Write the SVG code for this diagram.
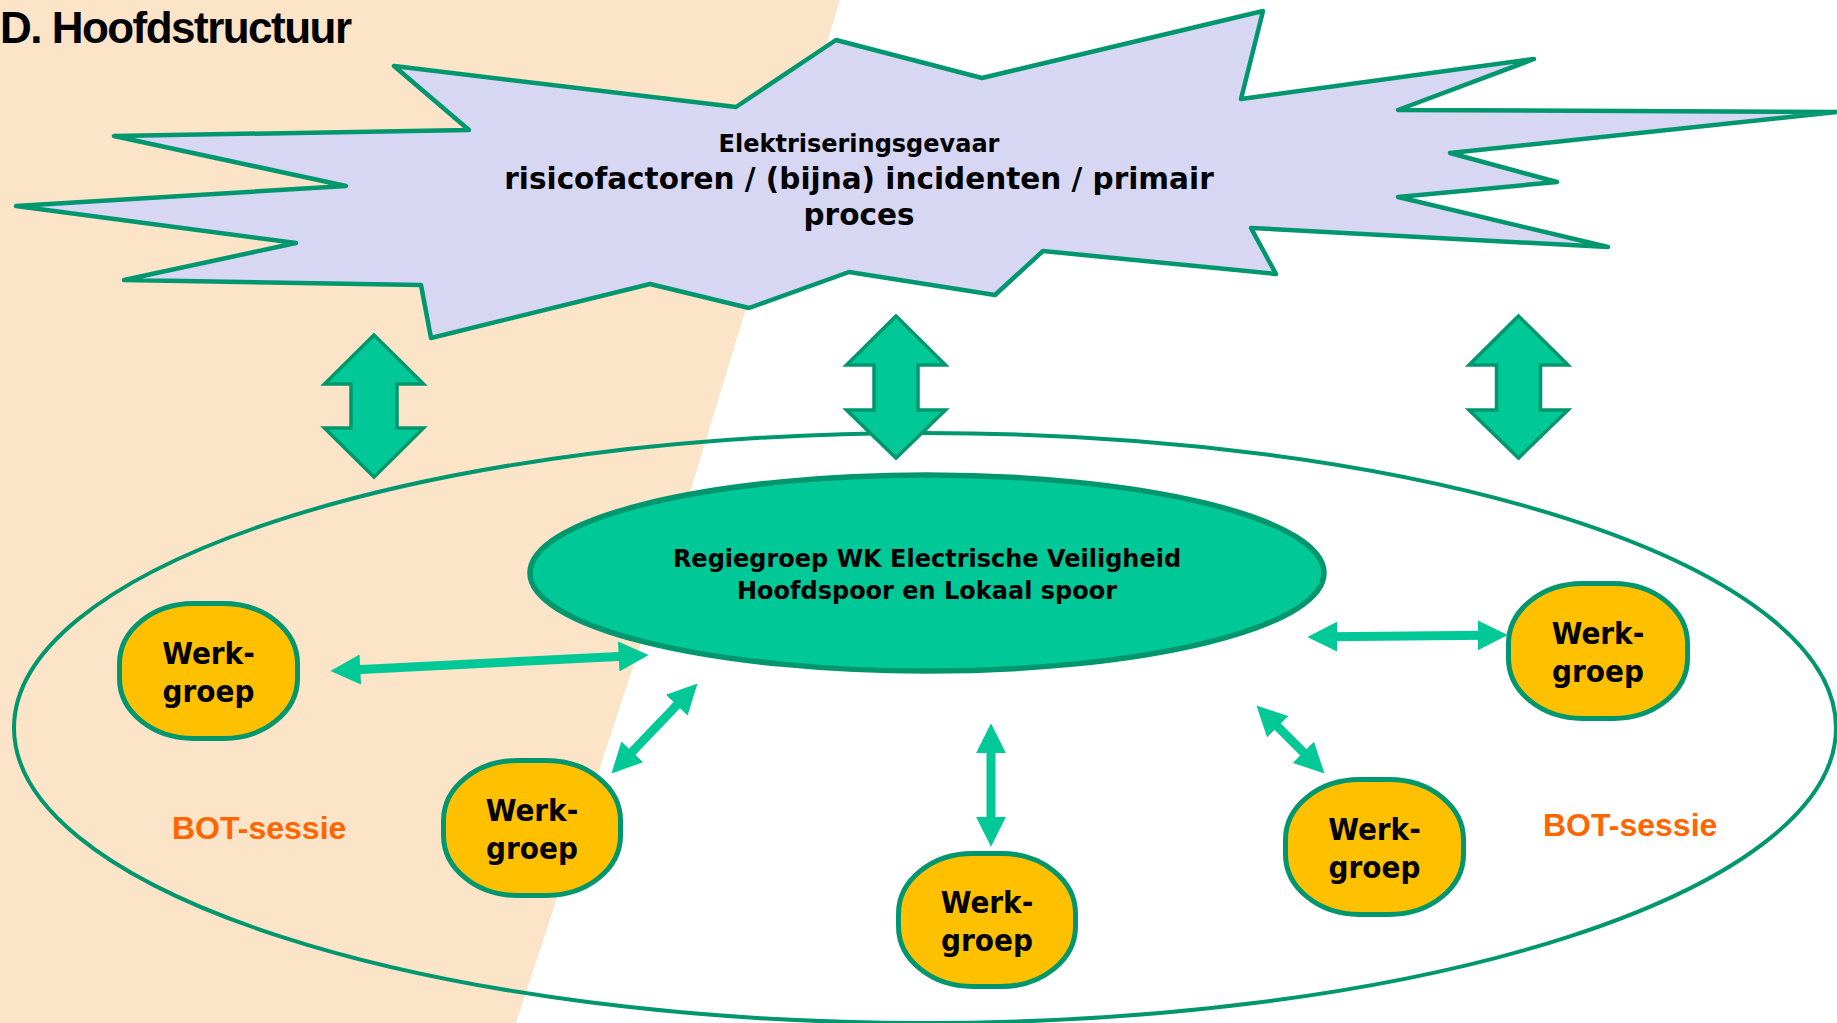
<svg xmlns="http://www.w3.org/2000/svg" width="1837" height="1023" viewBox="0 0 1837 1023">
<defs>
<style>
.wg{fill:#FFC000;stroke:#00966E;stroke-width:5}
.wt{font-family:"DejaVu Sans Condensed","DejaVu Sans",sans-serif;font-stretch:condensed;font-weight:bold;font-size:31px;fill:#000;text-anchor:middle}
.st{font-family:"DejaVu Sans",Verdana,sans-serif;font-weight:bold;fill:#000;text-anchor:middle}
.bot{font-family:"Liberation Sans",Arial,sans-serif;font-weight:bold;font-size:32px;fill:#FF6600}
.blk{fill:#00C896;stroke:#00966E;stroke-width:3.5;stroke-linejoin:miter}
.con{stroke:#00C896;stroke-width:9;fill:none;marker-start:url(#ah);marker-end:url(#ah)}
</style>
<marker id="ah" markerUnits="userSpaceOnUse" markerWidth="30" markerHeight="30" viewBox="0 0 29 29" refX="9" refY="14.5" orient="auto-start-reverse">
<path d="M0,0 L29,14.5 L0,29 Z" fill="#00C896"/>
</marker>
</defs>
<rect x="0" y="0" width="1837" height="1023" fill="#FFFFFF"/>
<polygon points="0,0 840,0 684,512 516,1023 0,1023" fill="#FCE4C9"/>
<text x="0" y="43" font-family="Liberation Sans, Arial, sans-serif" font-weight="bold" font-size="44" textLength="352" fill="#000">D. Hoofdstructuur</text>
<ellipse id="bot-sessie" cx="925" cy="728" rx="911" ry="295" fill="none" stroke="#00966E" stroke-width="4"/>
<g id="elektriseringsgevaar">
<polygon points="394,66 736,107 836,40 982,78 1263,11 1241,99 1534,59 1398,110 1837,112 1450,153 1557,182 1398,197 1608,247 1251,228 1276,274 1043,251 995,295 849,272 749,308 650,284 431,338 421,285 124,280 296,243 16,206 346,186 114,136 469,130" fill="#D7D7F3" stroke="#00966E" stroke-width="4.5" stroke-linejoin="round"/>
<text class="st" x="859" y="152" font-size="24">Elektriseringsgevaar</text>
<text class="st" x="859" y="189" font-size="29.5">risicofactoren / (bijna) incidenten / primair</text>
<text class="st" x="859" y="225" font-size="29.5">proces</text>
</g>
<g id="block-arrows">
<path class="blk" d="M374,335 L423.5,384 L397,384 L397,428 L423.5,428 L374,477 L324.5,428 L351,428 L351,384 L324.5,384 Z"/>
<path class="blk" d="M896,316 L945.5,365 L918,365 L918,410 L945.5,410 L896,458 L846.5,410 L874,410 L874,365 L846.5,365 Z"/>
<path class="blk" d="M1518.5,316 L1568,365 L1540.5,365 L1540.5,410 L1568,410 L1518.5,458 L1469,410 L1496.5,410 L1496.5,365 L1469,365 Z"/>
</g>
<g id="regiegroep">
<ellipse cx="927" cy="573" rx="397" ry="98" fill="#00C896" stroke="#00966E" stroke-width="5.5"/>
<text class="st" x="927" y="567" font-size="24">Regiegroep WK Electrische Veiligheid</text>
<text class="st" x="927" y="599" font-size="24">Hoofdspoor en Lokaal spoor</text>
</g>
<g id="werkgroep1">
<rect class="wg" x="119.5" y="603.5" width="178" height="135" rx="74" ry="60"/>
<text class="wt" x="208.5" y="664">Werk-</text>
<text class="wt" x="208.5" y="702">groep</text>
</g>
<g id="werkgroep2">
<rect class="wg" x="443.5" y="760.5" width="177" height="135" rx="74" ry="60"/>
<text class="wt" x="532" y="821">Werk-</text>
<text class="wt" x="532" y="859">groep</text>
</g>
<g id="werkgroep3">
<rect class="wg" x="898.5" y="853.5" width="177" height="133" rx="74" ry="60"/>
<text class="wt" x="987" y="913">Werk-</text>
<text class="wt" x="987" y="951">groep</text>
</g>
<g id="werkgroep4">
<rect class="wg" x="1285.5" y="779.5" width="178" height="135" rx="74" ry="60"/>
<text class="wt" x="1374.5" y="840">Werk-</text>
<text class="wt" x="1374.5" y="878">groep</text>
</g>
<g id="werkgroep5">
<rect class="wg" x="1508.5" y="583.5" width="179" height="135" rx="74" ry="60"/>
<text class="wt" x="1598" y="644">Werk-</text>
<text class="wt" x="1598" y="682">groep</text>
</g>
<g id="connectors">
<line class="con" x1="351" y1="670" x2="628" y2="656"/>
<line class="con" x1="625.8" y1="758.5" x2="683.2" y2="698.5"/>
<line class="con" x1="991" y1="744" x2="991" y2="826"/>
<line class="con" x1="1271.1" y1="720.1" x2="1309.9" y2="758.9"/>
<line class="con" x1="1328" y1="636.8" x2="1487" y2="635.2"/>
</g>
<text class="bot" x="172" y="839">BOT-sessie</text>
<text class="bot" x="1543" y="836">BOT-sessie</text>
</svg>
